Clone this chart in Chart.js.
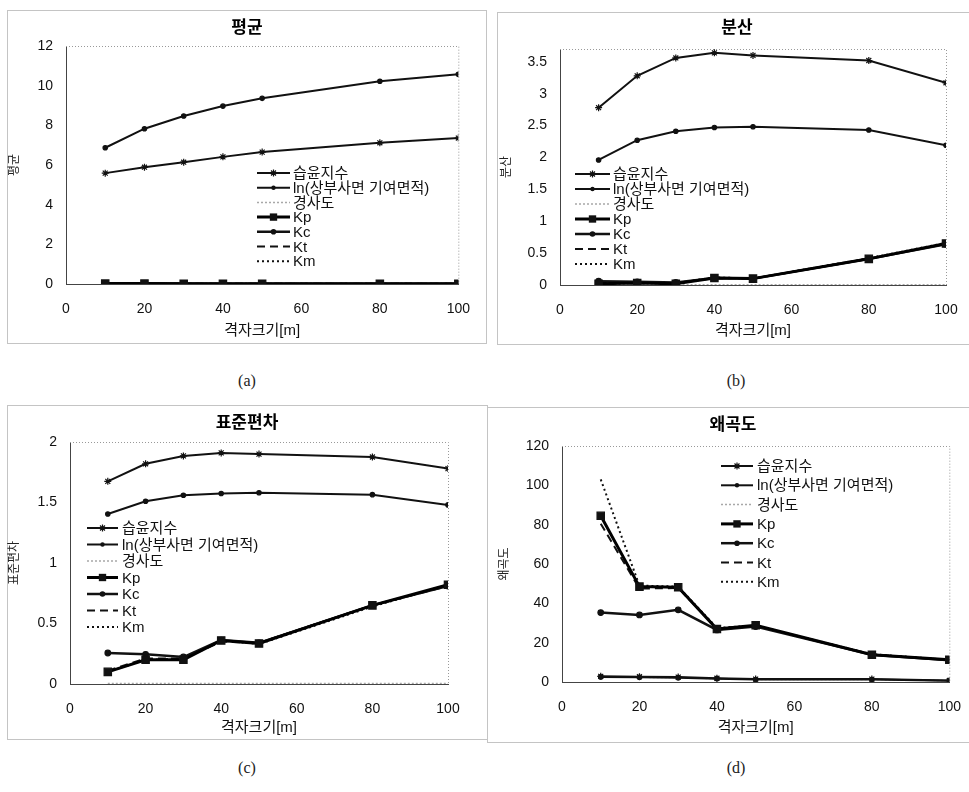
<!DOCTYPE html>
<html>
<head>
<meta charset="utf-8">
<script src="https://cdn.jsdelivr.net/npm/chart.js@4.4.0/dist/chart.umd.min.js"></script>
<style>
body{margin:0;width:969px;height:792px;overflow:hidden;background:#fff;position:relative}
canvas{position:absolute}
.frame{position:absolute;border:1px solid #c4c4c4}
.cap{position:absolute;font-family:"Liberation Serif",serif;font-size:16px;color:#222;transform:translate(-50%,-50%)}
</style>
</head>
<body>
<div class="frame" style="left:7px;top:10px;width:478px;height:332px"></div>
<div class="frame" style="left:497px;top:12px;width:480px;height:331px"></div>
<div class="frame" style="left:7px;top:405px;width:479px;height:333px"></div>
<div class="frame" style="left:487px;top:407px;width:490px;height:334px"></div>

<canvas id="chartA" width="480" height="332" style="left:7px;top:10px"></canvas>
<canvas id="chartB" width="480" height="332" style="left:497px;top:12px"></canvas>
<canvas id="chartC" width="480" height="333" style="left:7px;top:405px"></canvas>
<canvas id="chartD" width="490" height="334" style="left:488px;top:407px"></canvas>

<div class="cap" style="left:247px;top:381px">(a)</div>
<div class="cap" style="left:736px;top:381px">(b)</div>
<div class="cap" style="left:247px;top:768px">(c)</div>
<div class="cap" style="left:736px;top:768px">(d)</div>

<script>
// ---- data ----
const gridSize = [10, 20, 30, 40, 50, 80, 100];
const seriesNames = ["습윤지수", "ln(상부사면 기여면적)", "경사도", "Kp", "Kc", "Kt", "Km"];
const xTitle = "격자크기[m]";

// (a) 평균
const meanTwi   = [5.59, 5.89, 6.14, 6.41, 6.65, 7.12, 7.36];
const meanLnA   = [6.87, 7.83, 8.47, 8.97, 9.36, 10.22, 10.57];
const meanSlope = [0.03, 0.03, 0.03, 0.02, 0.02, 0.02, 0.02];
const meanKp    = [0.02, 0.02, 0.01, 0.01, 0.01, 0.01, 0.01];
const meanKc    = [0.02, 0.02, 0.02, 0.01, 0.01, 0.01, 0.01];
const meanKt    = [0.02, 0.02, 0.01, 0.01, 0.01, 0.01, 0.01];
const meanKm    = [0.02, 0.02, 0.01, 0.01, 0.01, 0.01, 0.01];

// (b) 분산
const varTwi   = [2.78, 3.28, 3.56, 3.64, 3.60, 3.52, 3.17];
const varLnA   = [1.96, 2.27, 2.41, 2.47, 2.48, 2.43, 2.19];
const varSlope = [0.005, 0.005, 0.005, 0.005, 0.005, 0.005, 0.005];
const varKp    = [0.02, 0.03, 0.02, 0.11, 0.10, 0.41, 0.65];
const varKc    = [0.06, 0.05, 0.04, 0.11, 0.10, 0.41, 0.64];
const varKt    = [0.03, 0.04, 0.03, 0.11, 0.10, 0.41, 0.65];
const varKm    = [0.02, 0.03, 0.03, 0.12, 0.10, 0.42, 0.66];

// (c) 표준편차
const stdTwi   = [1.675, 1.82, 1.885, 1.91, 1.90, 1.876, 1.78];
const stdLnA   = [1.405, 1.51, 1.56, 1.574, 1.58, 1.565, 1.48];
const stdSlope = [0.005, 0.005, 0.005, 0.005, 0.005, 0.005, 0.005];
const stdKp    = [0.10, 0.20, 0.20, 0.36, 0.335, 0.65, 0.82];
const stdKc    = [0.256, 0.245, 0.223, 0.363, 0.34, 0.65, 0.81];
const stdKt    = [0.11, 0.21, 0.21, 0.35, 0.34, 0.65, 0.81];
const stdKm    = [0.10, 0.20, 0.21, 0.36, 0.33, 0.64, 0.82];

// (d) 왜곡도
const skewTwi   = [2.9, 2.7, 2.5, 1.9, 1.5, 1.5, 0.8];
const skewLnA   = [2.6, 2.4, 2.2, 1.7, 1.3, 1.3, 0.6];
const skewSlope = [2.6, 2.4, 2.2, 1.7, 1.3, 1.3, 0.7];
const skewKp    = [84.5, 48.5, 48.2, 26.9, 28.9, 13.9, 11.3];
const skewKc    = [35.3, 34.1, 36.7, 26.5, 28.2, 13.8, 11.1];
const skewKt    = [80.5, 47.5, 47.8, 27.3, 28.5, 14.0, 11.2];
const skewKm    = [103, 49, 48.5, 27.5, 28.7, 14.1, 11.3];

// ---- styles ----
const FONT = "'Liberation Sans', 'Noto Sans CJK KR', sans-serif";
const seriesStyle = [
  {color: "#111", width: 2, dash: [], point: "star", r: 3.5},
  {color: "#111", width: 2, dash: [], point: "circle", r: 2.2},
  {color: "#a8a8a8", width: 1.5, dash: [2, 2], point: false, r: 0},
  {color: "#000", width: 3, dash: [], point: "rect", r: 5.2},
  {color: "#111", width: 2.5, dash: [], point: "circle", r: 2.8},
  {color: "#111", width: 2, dash: [8, 5], point: false, r: 0},
  {color: "#111", width: 2, dash: [2, 3], point: false, r: 0}
];

function drawMark(ctx, style, x, y, r) {
  ctx.fillStyle = "#111";
  ctx.strokeStyle = "#111";
  ctx.lineWidth = 1.2;
  ctx.beginPath();
  if (style === "circle") {
    ctx.arc(x, y, r, 0, Math.PI * 2);
    ctx.fill();
  } else if (style === "rect") {
    const s = r / Math.SQRT2;
    ctx.fillRect(x - s, y - s, 2 * s, 2 * s);
  } else if (style === "star") {
    ctx.moveTo(x - r, y); ctx.lineTo(x + r, y);
    ctx.moveTo(x, y - r); ctx.lineTo(x, y + r);
    const d = r * Math.SQRT1_2;
    ctx.moveTo(x - d, y - d); ctx.lineTo(x + d, y + d);
    ctx.moveTo(x - d, y + d); ctx.lineTo(x + d, y - d);
    ctx.stroke();
  }
}

// legend drawn inside the plot like the original
const legendBox = {
  id: "legendBox",
  afterDraw(chart, args, opts) {
    const ctx = chart.ctx;
    ctx.save();
    chart.data.datasets.forEach((ds, i) => {
      const y = opts.y0 + i * opts.dy;
      ctx.strokeStyle = ds.borderColor;
      ctx.lineWidth = ds.borderWidth;
      ctx.setLineDash(ds.borderDash || []);
      ctx.beginPath();
      ctx.moveTo(opts.x0, y);
      ctx.lineTo(opts.x1, y);
      ctx.stroke();
      ctx.setLineDash([]);
      if (ds.pointStyle && ds.pointRadius) drawMark(ctx, ds.pointStyle, (opts.x0 + opts.x1) / 2, y, ds.pointRadius);
      ctx.fillStyle = "#111";
      ctx.font = "15px " + FONT;
      ctx.textBaseline = "middle";
      ctx.fillText(ds.label, opts.tx, y + 1);
    });
    ctx.restore();
  }
};

const plotFrame = {
  id: "plotFrame",
  beforeDatasetsDraw(chart) {
    const {left, top, right, bottom} = chart.chartArea;
    const ctx = chart.ctx;
    ctx.save();
    ctx.strokeStyle = "#999";
    ctx.lineWidth = 1;
    ctx.setLineDash([1, 2]);
    ctx.beginPath();
    ctx.moveTo(left, top + 0.5); ctx.lineTo(right + 0.5, top + 0.5); ctx.lineTo(right + 0.5, bottom);
    ctx.stroke();
    ctx.restore();
  }
};

function makeChart(id, p) {
  const datasets = p.series.map((vals, i) => {
    const st = seriesStyle[i];
    return {
      label: seriesNames[i],
      data: gridSize.map((x, k) => ({x: x, y: vals[k]})),
      borderColor: st.color,
      backgroundColor: st.color,
      borderWidth: st.width,
      borderDash: st.dash,
      pointStyle: st.point,
      pointRadius: st.r,
      pointBackgroundColor: "#111",
      pointBorderColor: "#111",
      pointBorderWidth: 1.2,
      tension: 0,
      fill: false,
      order: i === 2 ? 10 : 0
    };
  });

  new Chart(document.getElementById(id), {
    type: "line",
    data: {datasets: datasets},
    options: {
      responsive: false,
      animation: false,
      devicePixelRatio: 1,
      layout: {padding: 0},
      plugins: {
        legend: {display: false},
        tooltip: {enabled: false},
        title: {
          display: true, text: p.title, color: "#000",
          font: {size: 17, weight: "bold", family: FONT},
          padding: {top: p.tTop, bottom: p.tBottom}
        },
        legendBox: p.legend
      },
      scales: {
        x: {
          type: "linear", min: 0, max: 100,
          grid: {display: false, drawTicks: false},
          border: {color: "#444"},
          ticks: {stepSize: 20, padding: 17, color: "#111", font: {size: 14, family: FONT}},
          title: {display: true, text: xTitle, color: "#111", font: {size: 15, family: FONT}, padding: {top: 0, bottom: p.xtPad}},
          afterFit: s => { s.height = p.xH; }
        },
        y: {
          type: "linear", min: 0, max: p.yMax,
          grid: {display: false, drawTicks: false},
          border: {color: "#444"},
          ticks: {stepSize: p.yStep, includeBounds: false, padding: 13, color: "#111",
                  font: {size: 14, family: FONT}, callback: v => String(Number(v.toFixed(2)))},
          title: {display: true, text: p.yTitle, color: "#222", font: {size: 12, family: FONT}, padding: {top: p.ytPad, bottom: 0}},
          afterFit: s => { s.width = p.yW; }
        },
        yRight: {
          type: "linear", position: "right",
          grid: {display: false, drawTicks: false},
          border: {display: false},
          ticks: {display: false},
          afterFit: s => { s.width = p.y2W; }
        }
      }
    },
    plugins: [plotFrame, legendBox]
  });
}

makeChart("chartA", {
  title: "평균", yTitle: "평균", yMax: 12, yStep: 2,
  series: [meanTwi, meanLnA, meanSlope, meanKp, meanKc, meanKt, meanKm],
  tTop: 7.8, tBottom: 7.8, yW: 59, y2W: 24, xH: 58, xtPad: 2, ytPad: 0.8,
  legend: {x0: 250, x1: 283, tx: 286, y0: 163, dy: 14.7}
});

makeChart("chartB", {
  title: "분산", yTitle: "분산", yMax: 3.7, yStep: 0.5,
  series: [varTwi, varLnA, varSlope, varKp, varKc, varKt, varKm],
  tTop: 5.8, tBottom: 10.8, yW: 63, y2W: 31, xH: 59, xtPad: 4, ytPad: 2.8,
  legend: {x0: 78, x1: 113, tx: 116, y0: 162, dy: 15}
});

makeChart("chartC", {
  title: "표준편차", yTitle: "표준편차", yMax: 2, yStep: 0.5,
  series: [stdTwi, stdLnA, stdSlope, stdKp, stdKc, stdKt, stdKm],
  tTop: 7.8, tBottom: 8.8, yW: 63, y2W: 39, xH: 54, xtPad: 1, ytPad: 0.8,
  legend: {x0: 80, x1: 111, tx: 115, y0: 123, dy: 16.5}
});

makeChart("chartD", {
  title: "왜곡도", yTitle: "왜곡도", yMax: 120, yStep: 20,
  series: [skewTwi, skewLnA, skewSlope, skewKp, skewKc, skewKt, skewKm],
  tTop: 7.8, tBottom: 10.8, yW: 74, y2W: 26, xH: 59, xtPad: 4, ytPad: 9.8,
  legend: {x0: 233, x1: 265, tx: 269, y0: 59, dy: 19.3}
});
</script>
</body>
</html>
